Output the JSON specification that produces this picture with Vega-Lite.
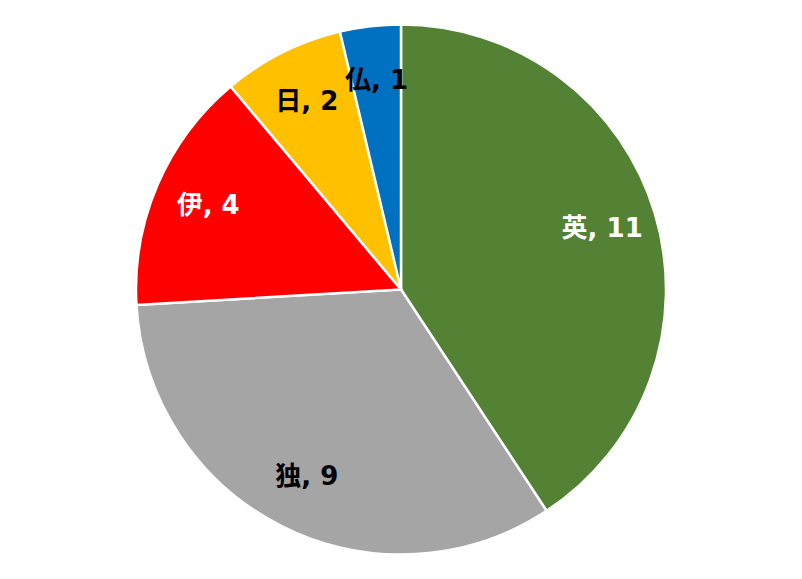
{
  "$schema": "https://vega.github.io/schema/vega-lite/v6.json",
  "autosize": {"type": "fit", "contains": "padding"},
  "width": 802,
  "height": 579,
  "config": {"view": {"stroke": null}},
  "data": {
    "values": [
      {"country": "英", "count": 11, "order": 1},
      {"country": "独", "count": 9, "order": 2},
      {"country": "伊", "count": 4, "order": 3},
      {"country": "日", "count": 2, "order": 4},
      {"country": "仏", "count": 1, "order": 5}
    ]
  },
  "encoding": {
    "theta": {"field": "count", "type": "quantitative", "stack": true},
    "order": {"field": "order", "type": "quantitative"}
  },
  "layer": [
    {
      "mark": {"type": "arc", "outerRadius": 265, "stroke": "white", "strokeWidth": 2.5},
      "encoding": {
        "color": {
          "field": "country",
          "type": "nominal",
          "legend": null,
          "scale": {
            "domain": ["英", "独", "伊", "日", "仏"],
            "range": ["#548235", "#A5A5A5", "#FF0000", "#FFC000", "#0070C0"]
          }
        }
      }
    },
    {
      "transform": [{"calculate": "datum.country + ', ' + datum.count", "as": "label"}],
      "mark": {
        "type": "text",
        "radius": 210,
        "font": "DejaVu Sans, Noto Sans CJK JP",
        "fontSize": 26,
        "fontWeight": "bold"
      },
      "encoding": {
        "text": {"field": "label", "type": "nominal"},
        "color": {
          "condition": {"test": "datum.country === '英' || datum.country === '伊'", "value": "white"},
          "value": "black"
        }
      }
    }
  ]
}
